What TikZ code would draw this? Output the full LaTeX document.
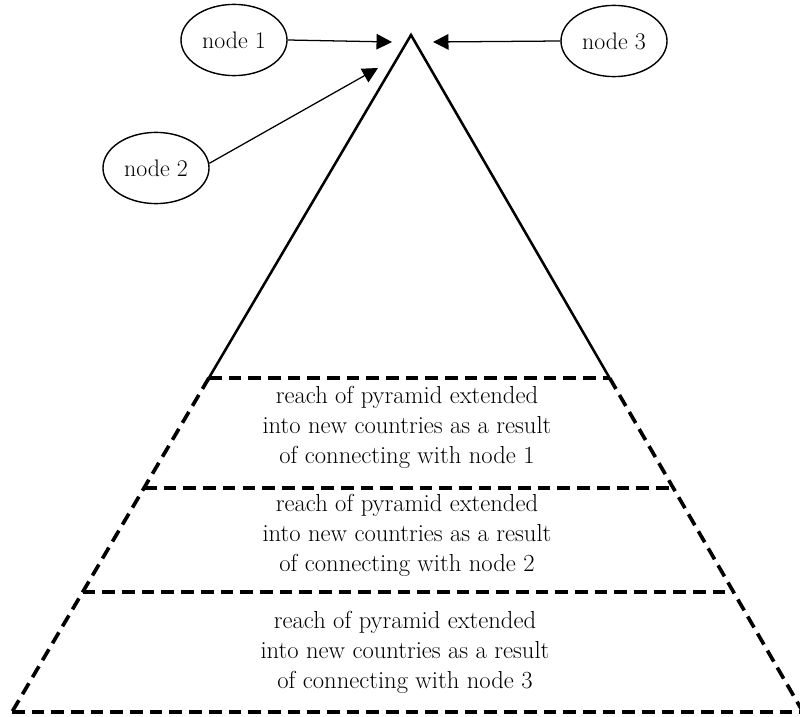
\documentclass[tikz,border=0pt]{standalone}
\usetikzlibrary{shapes.geometric,arrows.meta,calc}

\tikzset{
  bubble/.style={draw, ellipse, line width=1pt, minimum width=2.65cm,
    minimum height=1.78cm, inner sep=0pt, font=\fontsize{17}{20}\selectfont},
  cut/.style={line width=2.6pt, dash pattern=on 9pt off 5pt},
  pointer/.style={-{Triangle[length=11pt,width=11pt]}, line width=0.9pt},
  layertext/.style={align=center, font=\fontsize{17.5}{21.3}\selectfont}
}

\begin{document}
\begin{tikzpicture}[x=0.025cm, y=-0.025cm]
\useasboundingbox (0,0) rectangle (800,716);

% pyramid corners
\coordinate (top) at (411,35);
\coordinate (bl) at (12,712);
\coordinate (br) at (803,712);
\coordinate (l1) at ($(top)!0.5066!(bl)$);
\coordinate (r1) at ($(top)!0.5066!(br)$);
\coordinate (l2) at ($(top)!0.669!(bl)$);
\coordinate (r2) at ($(top)!0.669!(br)$);
\coordinate (l3) at ($(top)!0.8227!(bl)$);
\coordinate (r3) at ($(top)!0.8227!(br)$);

\draw [line width=1.8pt] (l1) -- (top) -- (r1);
\draw [cut] (l1) to (bl);
\draw [cut] (r1) to (br);
\draw [cut] (l1) to (r1);
\draw [cut] (l2) to (r2);
\draw [cut] (l3) to (r3);
\draw [cut] (bl) to (br);

\node [layertext] (t1) at (407,427) {reach of pyramid extended\\into new countries as a result\\of connecting with node 1};
\node [layertext] (t2) at (407,535) {reach of pyramid extended\\into new countries as a result\\of connecting with node 2};
\node [layertext] (t3) at (405,652) {reach of pyramid extended\\into new countries as a result\\of connecting with node 3};

% the three nodes
\node [bubble] (n1) at (234,40) {node 1};
\node [bubble] (n2) at (156,168) {node 2};
\node [bubble] (n3) at (614,41) {node 3};

\coordinate (a1) at (392,42);
\coordinate (a2) at (378,68);
\coordinate (a3) at (433,42);
\draw [pointer] (n1.east) to (a1);
\draw [pointer] (n2.5) to (a2);
\draw [pointer] (n3.west) to (a3);
\end{tikzpicture}
\end{document}
